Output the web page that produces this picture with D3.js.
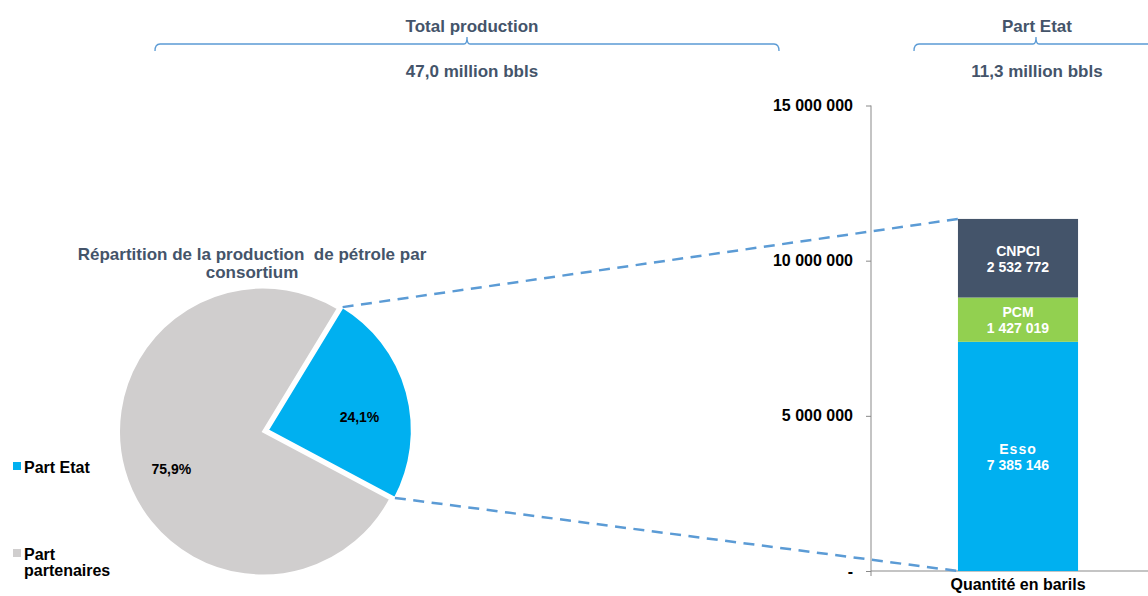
<!DOCTYPE html>
<html>
<head>
<meta charset="utf-8">
<script src="https://cdn.jsdelivr.net/npm/d3@7"></script>
<style>
  body { margin: 0; background: #fff; }
  text { font-family: "Liberation Sans", Arial, sans-serif; font-weight: bold; }
</style>
</head>
<body>
<div id="chart"></div>
<script>
// Data
var pieLabels = ["Part Etat", "Part partenaires"];
var pieValues = [24.1, 75.9];
var pieColors = ["#00B0F0", "#D0CECE"];

var barCategory = ["Quantité en barils"];
var barSeries = ["Esso", "PCM", "CNPCI"];
var barValues = [7385146, 1427019, 2532772];
var barColors = ["#00B0F0", "#92D050", "#44546A"];
var yTicks = [0, 5000000, 10000000, 15000000];

var headerTitles = ["Total production", "Part Etat"];
var headerValues = ["47,0 million bbls", "11,3 million bbls"];

var width = 1148, height = 596;
var titleColor = "#44546A";
var lineBlue = "#5B9BD5";

var fr = d3.formatLocale({ decimal: ",", thousands: " ", grouping: [3], currency: ["", ""] });
var fmt = fr.format(",.0f");
var pct = fr.format(".1f");

var svg = d3.select("#chart").append("svg")
  .attr("width", width)
  .attr("height", height);

// Header brackets
var brackets = [
  { x0: 155, x1: 779, mid: 467, tx: 472 },
  { x0: 914, x1: 1160, mid: 1036, tx: 1037 }
];
var by = 44;
brackets.forEach(function(b, i) {
  var p = "M" + b.x0 + "," + (by + 7) +
    " Q" + b.x0 + "," + by + " " + (b.x0 + 5) + "," + by +
    " L" + (b.mid - 3) + "," + by +
    " Q" + b.mid + "," + by + " " + b.mid + "," + (by - 7) +
    " Q" + b.mid + "," + by + " " + (b.mid + 3) + "," + by +
    " L" + (b.x1 - 5) + "," + by +
    " Q" + b.x1 + "," + by + " " + b.x1 + "," + (by + 7);
  svg.append("path").attr("d", p)
    .attr("fill", "none").attr("stroke", lineBlue).attr("stroke-width", 1.3);
  svg.append("text").attr("x", b.tx).attr("y", 32)
    .attr("text-anchor", "middle").attr("font-size", 17).attr("fill", titleColor)
    .text(headerTitles[i]);
  svg.append("text").attr("x", b.tx).attr("y", 77)
    .attr("text-anchor", "middle").attr("font-size", 17).attr("fill", titleColor)
    .text(headerValues[i]);
});

// Pie
var cx = 263, cy = 431.5, r = 144, explode = 5;
var startA = 31.3 * Math.PI / 180;
var pie = d3.pie().sort(null).startAngle(startA).endAngle(startA + 2 * Math.PI);
var arcs = pie(pieValues);
var arc = d3.arc().innerRadius(0).outerRadius(r);
var labelArc = d3.arc().innerRadius(r * 0.66).outerRadius(r * 0.66);

function offsetOf(d, i) {
  if (i !== 0) return [0, 0];
  var m = (d.startAngle + d.endAngle) / 2;
  return [Math.sin(m) * explode, -Math.cos(m) * explode];
}

var pieG = svg.append("g").attr("transform", "translate(" + cx + "," + cy + ")");
pieG.selectAll("path.slice")
  .data(arcs)
  .enter()
  .append("path")
  .attr("class", "slice")
  .attr("d", arc)
  .attr("transform", function(d, i) {
    var o = offsetOf(d, i);
    return "translate(" + o[0] + "," + o[1] + ")";
  })
  .attr("fill", function(d, i) { return pieColors[i]; })
  .attr("stroke", "#fff")
  .attr("stroke-width", 2);

pieG.selectAll("text.pct")
  .data(arcs)
  .enter()
  .append("text")
  .attr("class", "pct")
  .attr("x", function(d, i) { return labelArc.centroid(d)[0] + offsetOf(d, i)[0]; })
  .attr("y", function(d, i) { return labelArc.centroid(d)[1] + offsetOf(d, i)[1] + 12; })
  .attr("dy", "0.35em")
  .attr("text-anchor", "middle")
  .attr("font-size", 14)
  .attr("fill", "#000")
  .text(function(d) { return pct(d.data) + "%"; });

// Pie title
svg.append("text")
  .attr("x", 252).attr("y", 260)
  .attr("text-anchor", "middle").attr("font-size", 17).attr("fill", titleColor)
  .attr("xml:space", "preserve")
  .text("Répartition de la production  de pétrole par");
svg.append("text")
  .attr("x", 252).attr("y", 278)
  .attr("text-anchor", "middle").attr("font-size", 17).attr("fill", titleColor)
  .text("consortium");

// Legend
var legend = svg.append("g");
var legendY = [462, 549];
pieLabels.forEach(function(lbl, i) {
  legend.append("rect")
    .attr("x", 13).attr("y", legendY[i]).attr("width", 8).attr("height", 8)
    .attr("fill", pieColors[i]);
  var words = i === 0 ? [lbl] : ["Part", "partenaires"];
  words.forEach(function(w, j) {
    legend.append("text")
      .attr("x", 24).attr("y", legendY[i] + 11 + j * 16)
      .attr("font-size", 16).attr("fill", "#000")
      .text(w);
  });
});

// Stacked bar
var x_scale = d3.scaleBand().domain(barCategory).range([871, 1165]).padding(0.42);
var y_scale = d3.scaleLinear().domain([0, 15000000]).range([571, 105.5]);

var stackRow = {};
stackRow.cat = barCategory[0];
barSeries.forEach(function(s, i) { stackRow[s] = barValues[i]; });
var stack_data = d3.stack().keys(barSeries)([stackRow]);

var axisColor = "#898989";
var yAxis = svg.append("g")
  .attr("transform", "translate(871,0)")
  .call(d3.axisLeft(y_scale).tickValues(yTicks).tickSize(5).tickPadding(13)
    .tickFormat(function(d) { return d === 0 ? "-" : fmt(d); }));
yAxis.select(".domain").attr("stroke", axisColor).attr("d", "M0,105.5V571");
yAxis.selectAll(".tick line").attr("stroke", axisColor);
yAxis.selectAll(".tick text")
  .attr("font-size", 16).attr("font-family", "Liberation Sans, Arial, sans-serif")
  .attr("font-weight", "bold").attr("fill", "#000");

var xAxis = svg.append("g")
  .attr("transform", "translate(0,571)")
  .call(d3.axisBottom(x_scale).tickSize(0).tickPadding(5));
xAxis.select(".domain").attr("stroke", axisColor).attr("d", "M871,0H1165");
xAxis.append("line").attr("x1", 871).attr("x2", 871).attr("y1", 0).attr("y2", 5)
  .attr("stroke", axisColor);
xAxis.selectAll(".tick text")
  .attr("dy", "0.88em")
  .attr("font-size", 16).attr("font-family", "Liberation Sans, Arial, sans-serif")
  .attr("font-weight", "bold").attr("fill", "#000");

var groups = svg.selectAll("g.layer")
  .data(stack_data)
  .enter()
  .append("g")
  .attr("class", "layer");

groups.append("rect")
  .attr("x", function(d) { return x_scale(d[0].data.cat); })
  .attr("y", function(d) { return y_scale(d[0][1]); })
  .attr("width", x_scale.bandwidth())
  .attr("height", function(d) { return y_scale(d[0][0]) - y_scale(d[0][1]); })
  .attr("fill", function(d, i) { return barColors[i]; });

groups.each(function(d, i) {
  var g = d3.select(this);
  var xc = x_scale(d[0].data.cat) + x_scale.bandwidth() / 2;
  var yc = (y_scale(d[0][0]) + y_scale(d[0][1])) / 2;
  g.append("text").attr("x", xc).attr("y", yc - 2.5)
    .attr("text-anchor", "middle").attr("font-size", 14).attr("fill", "#fff")
    .attr("letter-spacing", d.key === "Esso" ? 1 : 0)
    .text(d.key);
  g.append("text").attr("x", xc).attr("y", yc + 13.5)
    .attr("text-anchor", "middle").attr("font-size", 14).attr("fill", "#fff")
    .text(fmt(barValues[i]));
});

// Connector dashed lines from the exploded slice to the bar
var etat = arcs[0];
var off = offsetOf(etat, 0);
var pTop = [cx + off[0] + Math.sin(etat.startAngle) * r, cy + off[1] - Math.cos(etat.startAngle) * r];
var pBot = [cx + off[0] + Math.sin(etat.endAngle) * r, cy + off[1] - Math.cos(etat.endAngle) * r];
var barX = x_scale(barCategory[0]);
var total = d3.sum(barValues);
svg.append("line")
  .attr("x1", pTop[0]).attr("y1", pTop[1])
  .attr("x2", barX).attr("y2", y_scale(total))
  .attr("stroke", lineBlue).attr("stroke-width", 2.5).attr("stroke-dasharray", "11,7.5");
svg.append("line")
  .attr("x1", pBot[0]).attr("y1", pBot[1])
  .attr("x2", barX).attr("y2", y_scale(0))
  .attr("stroke", lineBlue).attr("stroke-width", 2.5).attr("stroke-dasharray", "11,7.5");
</script>
</body>
</html>
